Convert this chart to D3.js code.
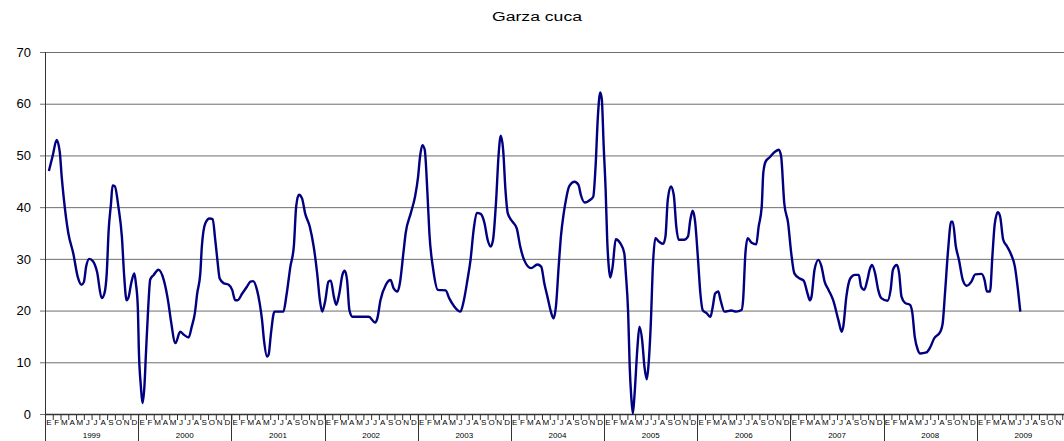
<!DOCTYPE html>
<html>
<head>
<meta charset="utf-8">
<script src="https://cdn.jsdelivr.net/npm/d3@7"></script>
<style>
  body { margin: 0; background: #fff; }
  svg text { font-family: 'Liberation Sans', Arial, sans-serif; }
</style>
</head>
<body>
<div id="chart"></div>
<script>
const title = 'Garza cuca';
const years = ['1999', '2000', '2001', '2002', '2003', '2004', '2005', '2006', '2007', '2008', '2009'];
const monthLetters = ['E', 'F', 'M', 'A', 'M', 'J', 'J', 'A', 'S', 'O', 'N', 'D'];
const yTicks = [0, 10, 20, 30, 40, 50, 60, 70];

// position in months counted from January 1999
const months = [
  0.5, 1.0, 1.5, 1.9, 2.15, 2.4, 3.0, 3.65, 4.2, 4.7, 5.0, 5.3, 5.7, 6.2, 6.7, 7.3, 7.65, 7.95, 8.2, 8.5,
  8.7, 9.0, 9.45, 9.9, 10.2, 10.5, 10.75, 11.1, 11.5, 11.7, 11.95, 12.1, 12.35, 12.55, 12.8, 13.0, 13.3, 13.55, 14.0, 14.6,
  15.3, 15.9, 16.2, 16.8, 17.4, 17.9, 18.5, 18.9, 19.3, 19.6, 20.0, 20.2, 20.65, 21.2, 21.6, 21.9, 22.2, 22.5, 23.0, 23.65,
  24.1, 24.5, 24.8, 25.4, 26.0, 26.45, 26.8, 27.3, 27.65, 27.95, 28.2, 28.6, 28.8, 29.1, 29.55, 30.2, 30.7, 31.1, 31.6, 32.05,
  32.35, 32.7, 33.1, 33.5, 34.1, 34.6, 35.05, 35.4, 35.7, 36.1, 36.5, 36.8, 37.2, 37.5, 37.9, 38.3, 38.6, 38.9, 39.2, 39.6,
  40.6, 41.7, 42.5, 42.8, 43.2, 43.9, 44.5, 44.9, 45.4, 45.7, 46.15, 46.45, 47.1, 47.65, 48.05, 48.3, 48.6, 48.9, 49.25, 49.5,
  50.0, 50.6, 51.6, 52.05, 52.7, 53.5, 53.9, 54.4, 54.8, 55.2, 55.6, 56.1, 56.6, 57.0, 57.4, 57.7, 58.1, 58.4, 58.7, 59.0,
  59.3, 59.6, 60.2, 60.75, 61.2, 61.7, 62.6, 63.4, 63.9, 64.3, 64.7, 65.2, 65.5, 65.8, 66.15, 66.45, 66.8, 67.1, 67.5, 68.2,
  68.7, 69.0, 69.5, 70.1, 70.6, 70.9, 71.2, 71.5, 71.7, 71.95, 72.2, 72.4, 72.6, 72.8, 73.1, 73.5, 74.1, 74.6, 74.8, 75.1,
  75.3, 75.5, 75.7, 75.9, 76.3, 76.55, 76.9, 77.2, 77.5, 77.7, 78.0, 78.3, 78.6, 79.1, 79.6, 79.9, 80.2, 80.6, 80.97, 81.3,
  81.6, 82.3, 82.8, 83.1, 83.4, 83.7, 84.1, 84.4, 84.7, 85.2, 85.7, 86.0, 86.3, 86.7, 87.0, 87.5, 88.4, 89.0, 89.7, 89.9,
  90.2, 90.5, 91.0, 91.6, 91.9, 92.3, 92.5, 92.8, 93.3, 94.0, 94.5, 94.8, 95.2, 95.7, 96.1, 96.5, 97.2, 97.7, 98.2, 98.5,
  98.7, 99.1, 99.6, 100.0, 100.4, 100.9, 101.5, 102.2, 102.6, 102.8, 103.2, 103.7, 104.3, 104.8, 105.1, 105.5, 105.9, 106.2, 106.5, 106.9,
  107.3, 107.7, 108.5, 108.9, 109.2, 109.7, 110.0, 110.3, 110.75, 111.4, 111.7, 112.0, 112.4, 112.7, 113.5, 114.0, 114.5, 115.3, 115.6, 115.9,
  116.3, 116.7, 116.9, 117.3, 117.7, 118.2, 118.7, 119.3, 119.8, 120.6, 121.0, 121.3, 121.7, 122.0, 122.3, 122.7, 123.0, 123.4, 123.9, 124.4,
  124.9, 125.3, 125.6
];
const values = [
  47, 50, 53, 50.7, 45.9, 42, 35, 31, 26.6, 25, 25.5, 28.5, 30, 29.5, 27.5, 22.4, 23.3, 27.2, 35.6, 40.7,
  44.2, 44, 40.1, 34.3, 26.6, 22, 22.5, 25.3, 27.2, 25.3, 20.8, 11.7, 5.3, 2.1, 5.3, 11.7, 20.8, 26, 26.9, 27.9,
  25.9, 21.4, 18.2, 13.7, 15.9, 15.3, 14.8, 16.9, 19.5, 23.3, 27.2, 32.4, 36.9, 37.8, 37.7, 34, 29.8, 26.2, 25.3, 25,
  24, 22, 22, 23.3, 24.6, 25.6, 25.7, 24, 21.4, 18.2, 14.3, 11.1, 11.5, 15.6, 19.8, 19.8, 19.8, 23, 28.5, 32.5,
  40.2, 42.4, 41.7, 38.8, 36.2, 32.4, 27.2, 22, 19.8, 22, 25.6, 25.8, 22.7, 21.1, 23.3, 26.9, 27.7, 25.9, 20.1, 18.8,
  18.8, 18.8, 17.7, 18.5, 22, 25, 25.9, 24.3, 23.7, 25.3, 31.1, 35, 38.8, 42, 45.9, 49.8, 52, 51.1, 42.7, 35,
  27.9, 24, 23.9, 22.4, 20.8, 19.8, 21.7, 25.9, 29.8, 35.6, 38.9, 38.7, 36.9, 33.7, 32.4, 33.7, 41.4, 49.8, 53.8, 51.1,
  43.3, 38.8, 37.2, 35.9, 32.4, 29.8, 28.2, 28.9, 28.5, 25.3, 22.7, 19.5, 18.5, 20.8, 28.5, 34.5, 38.8, 41.5, 44, 44.9,
  44.3, 42.4, 40.9, 41.3, 42, 47.8, 57.5, 62.2, 61, 51.7, 43.3, 33.7, 28.5, 26.4, 28.5, 33.8, 33, 31.1, 27.2, 19.5,
  9.1, 3.3, 0.1, 3.3, 13, 16.9, 14.3, 9.1, 6.7, 9.1, 16.9, 29.1, 34, 33.3, 32.9, 34.3, 41.4, 44, 42.4, 36.2,
  33.7, 33.7, 34.3, 37.5, 39.3, 37.5, 29.8, 23.3, 20.1, 19.5, 18.8, 20.8, 23.3, 23.7, 22, 19.8, 20, 19.8, 20.1, 22,
  31.1, 34, 33.1, 32.8, 36.2, 40.1, 46.6, 48.8, 49.6, 50.7, 51.1, 49.8, 40.8, 36.9, 31.1, 27.2, 26.2, 25.8, 23.3, 22,
  22.6, 27.9, 29.8, 28.5, 25.6, 24, 22, 18, 15.9, 16.9, 22.7, 26.2, 26.9, 26.9, 24.6, 24, 25.9, 27.9, 28.8, 27.2,
  24, 22.4, 21.9, 24, 27.9, 28.8, 27.2, 22.7, 21.5, 21.1, 19.5, 15, 12.4, 11.7, 11.9, 12.9, 14.6, 15.9, 17.5, 23.3,
  31.7, 37.2, 37.2, 32.4, 29.8, 25.9, 24.8, 25.6, 27, 27.1, 25.9, 23.7, 23.7, 30.4, 36.6, 39, 38.2, 33.7, 32.4, 30.9,
  28.5, 24, 19.8
];

const style = {
  line: { color: '#000080', width: 2.4 },
  grid: { color: '#6e6e6e', width: 1 },
  axis: { color: '#333' },
  labels: { size: 13, color: '#000' },
  months: { size: 8 },
  years: { size: 8 },
};

const W = 1064;
const H = 441;
const margin = { top: 52, right: -6, bottom: 27, left: 45 };
const width = W - margin.left - margin.right;
const height = H - margin.top - margin.bottom;

const svg = d3.select('#chart').append('svg')
  .attr('width', W)
  .attr('height', H);

svg.append('text')
  .attr('x', 537)
  .attr('y', 21)
  .attr('text-anchor', 'middle')
  .attr('font-size', 12.5)
  .attr('textLength', 90)
  .attr('lengthAdjust', 'spacingAndGlyphs')
  .attr('fill', '#000')
  .text(title);

const g = svg.append('g')
  .attr('transform', `translate(${margin.left}, ${margin.top})`);

const nMonths = years.length * 12;
const x = d3.scaleLinear()
  .domain([0, nMonths])
  .range([0, width]);

const y = d3.scaleLinear()
  .domain([0, 70])
  .range([height, 0]);

// y gridlines and labels
const yAxis = d3.axisLeft(y)
  .tickValues(yTicks)
  .tickSize(-width)
  .tickPadding(14);

g.append('g')
  .attr('class', 'chart__y-axis')
  .call(yAxis);

g.selectAll('.chart__y-axis .domain').remove();
g.selectAll('.chart__y-axis line')
  .attr('x1', -5)
  .attr('stroke', style.grid.color)
  .attr('stroke-width', style.grid.width);
g.selectAll('.chart__y-axis text')
  .attr('font-size', style.labels.size)
  .attr('font-family', "'Liberation Sans', Arial, sans-serif")
  .attr('fill', style.labels.color);

g.append('line')
  .attr('x1', 0.5).attr('x2', 0.5)
  .attr('y1', 0).attr('y2', height)
  .attr('stroke', style.axis.color);

// month ticks
const monthBounds = d3.range(0, nMonths + 1);
const xAxis = d3.axisBottom(x)
  .tickValues(monthBounds)
  .tickSize(6)
  .tickFormat('');

g.append('g')
  .attr('class', 'chart__x-axis')
  .attr('transform', `translate(0, ${height})`)
  .call(xAxis);

g.selectAll('.chart__x-axis .domain').remove();
g.selectAll('.chart__x-axis line').attr('stroke', style.axis.color);

g.append('line')
  .attr('x1', 0).attr('x2', width)
  .attr('y1', height + 0.5).attr('y2', height + 0.5)
  .attr('stroke', style.axis.color)
  .attr('stroke-width', 1.5);

// month letters; the last one falls past the right edge of the picture
const monthData = d3.range(nMonths)
  .map((i) => ({ i, letter: monthLetters[i % 12] }))
  .filter((d) => margin.left + x(d.i + 0.5) + 4 <= W);
g.append('g')
  .selectAll('text')
  .data(monthData)
  .enter()
  .append('text')
  .attr('x', (d) => x(d.i + 0.5))
  .attr('y', height + 11)
  .attr('text-anchor', 'middle')
  .attr('font-size', style.months.size)
  .attr('fill', '#000')
  .text((d) => d.letter);

// year separators and labels
const yearBounds = d3.range(0, years.length + 1).map((i) => i * 12);
g.append('g')
  .selectAll('line')
  .data(yearBounds)
  .enter()
  .append('line')
  .attr('x1', (d) => Math.round(x(d)) + 0.5)
  .attr('x2', (d) => Math.round(x(d)) + 0.5)
  .attr('y1', height)
  .attr('y2', H - margin.top)
  .attr('stroke', style.axis.color);

g.append('g')
  .selectAll('text')
  .data(years)
  .enter()
  .append('text')
  .attr('x', (d, i) => x(i * 12 + 6))
  .attr('y', height + 24)
  .attr('text-anchor', 'middle')
  .attr('font-size', style.years.size)
  .attr('fill', '#000')
  .text((d) => d);

// series
const points = months.map((m, i) => [m, values[i]]);
const line = d3.line()
  .x((d) => x(d[0]))
  .y((d) => y(d[1]))
  .curve(d3.curveMonotoneX);

g.append('path')
  .datum(points)
  .attr('fill', 'none')
  .attr('stroke', style.line.color)
  .attr('stroke-width', style.line.width)
  .attr('stroke-linejoin', 'round')
  .attr('d', line);
</script>
</body>
</html>
